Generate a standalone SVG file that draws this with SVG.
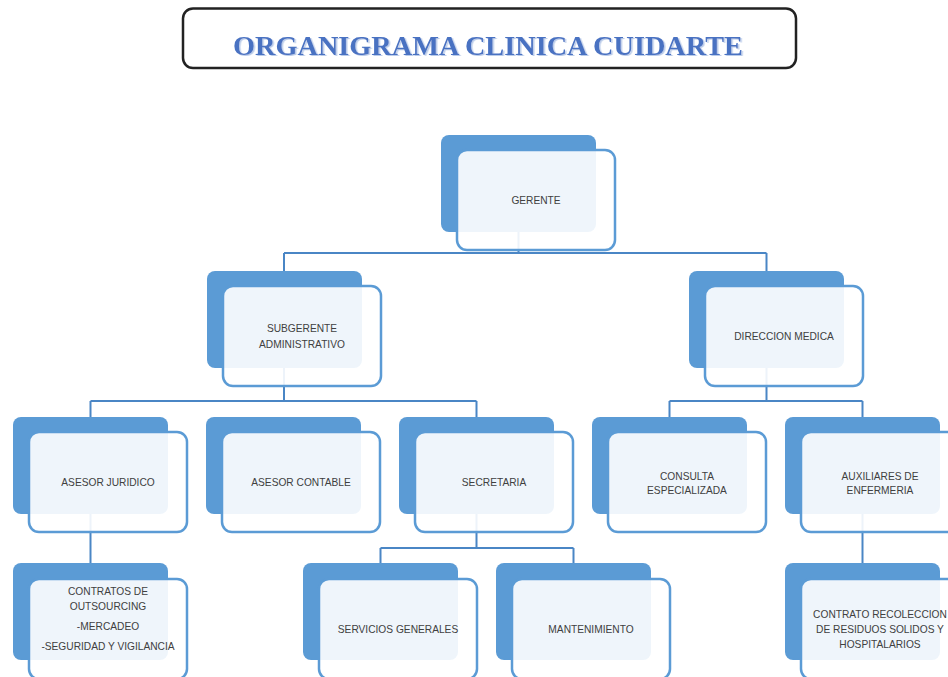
<svg xmlns="http://www.w3.org/2000/svg" width="948" height="677" viewBox="0 0 948 677">
<defs>
<filter id="shadow" x="-5%" y="-30%" width="110%" height="160%">
<feDropShadow dx="1.5" dy="1" stdDeviation="0" flood-color="#b9cbe9" flood-opacity="1"/>
</filter>
</defs>
<style>
.back{fill:#5b9bd5}
.front{fill:#ffffff;fill-opacity:0.9;stroke:#5b9bd5;stroke-width:2.5}
.lbl{font-family:"Liberation Sans",Arial,sans-serif;font-size:10.2px;fill:#404040;text-anchor:middle}
.conn{fill:none;stroke:#4a86c5;stroke-width:2}
.title{font-family:"Liberation Serif","Times New Roman",serif;font-weight:bold;font-size:27px}
</style>
<rect width="948" height="677" fill="#ffffff"/>
<g id="title">
<rect x="183" y="8.5" width="613" height="59.5" rx="10" fill="#ffffff" stroke="#222222" stroke-width="2.5"/>
<text class="title" x="233" y="55" textLength="510" lengthAdjust="spacingAndGlyphs" fill="#4a72c2" filter="url(#shadow)">ORGANIGRAMA CLINICA CUIDARTE</text>
</g>
<g id="connectors">
<path class="conn" d="M518.5,180 V253 M284,253 H766.5 M284,253 V300 M766.5,253 V300"/>
<path class="conn" d="M284,330 V401 M90.5,401 H476.5 M90.5,401 V440 M476.5,401 V440"/>
<path class="conn" d="M766.5,330 V401 M669.5,401 H862.5 M669.5,401 V440 M862.5,401 V440"/>
<path class="conn" d="M90.5,480 V590"/>
<path class="conn" d="M476.5,480 V548 M380.5,548 H573.5 M380.5,548 V590 M573.5,548 V590"/>
<path class="conn" d="M862.5,480 V590"/>
</g>
<g id="gerente">
<rect class="back" x="441" y="135" width="155" height="97" rx="8"/>
<rect class="front" x="457" y="150" width="158" height="100" rx="10"/>
<text class="lbl" x="536" y="203.5">GERENTE</text>
</g>
<g id="subgerente">
<rect class="back" x="207" y="271" width="155" height="97" rx="8"/>
<rect class="front" x="223" y="286" width="158" height="100" rx="10"/>
<text class="lbl" x="302" y="332">SUBGERENTE</text>
<text class="lbl" x="302" y="348">ADMINISTRATIVO</text>
</g>
<g id="direccion">
<rect class="back" x="689" y="271" width="155" height="97" rx="8"/>
<rect class="front" x="705" y="286" width="158" height="100" rx="10"/>
<text class="lbl" x="784" y="340">DIRECCION MEDICA</text>
</g>
<g id="asesor-juridico">
<rect class="back" x="13" y="417" width="155" height="97" rx="8"/>
<rect class="front" x="29" y="432" width="158" height="100" rx="10"/>
<text class="lbl" x="108" y="486">ASESOR JURIDICO</text>
</g>
<g id="asesor-contable">
<rect class="back" x="206" y="417" width="155" height="97" rx="8"/>
<rect class="front" x="222" y="432" width="158" height="100" rx="10"/>
<text class="lbl" x="301" y="486">ASESOR CONTABLE</text>
</g>
<g id="secretaria">
<rect class="back" x="399" y="417" width="155" height="97" rx="8"/>
<rect class="front" x="415" y="432" width="158" height="100" rx="10"/>
<text class="lbl" x="494" y="486">SECRETARIA</text>
</g>
<g id="consulta">
<rect class="back" x="592" y="417" width="155" height="97" rx="8"/>
<rect class="front" x="608" y="432" width="158" height="100" rx="10"/>
<text class="lbl" x="687" y="479.5">CONSULTA</text>
<text class="lbl" x="687" y="494">ESPECIALIZADA</text>
</g>
<g id="auxiliares">
<rect class="back" x="785" y="417" width="155" height="97" rx="8"/>
<rect class="front" x="801" y="432" width="158" height="100" rx="10"/>
<text class="lbl" x="880" y="480">AUXILIARES DE</text>
<text class="lbl" x="880" y="494">ENFERMERIA</text>
</g>
<g id="contratos">
<rect class="back" x="13" y="563" width="155" height="97" rx="8"/>
<rect class="front" x="29" y="579" width="158" height="100" rx="10"/>
<text class="lbl" x="108" y="594.5">CONTRATOS DE</text>
<text class="lbl" x="108" y="610">OUTSOURCING</text>
<text class="lbl" x="108" y="630">-MERCADEO</text>
<text class="lbl" x="108" y="649.5">-SEGURIDAD Y VIGILANCIA</text>
</g>
<g id="servicios">
<rect class="back" x="303" y="563" width="155" height="97" rx="8"/>
<rect class="front" x="319" y="579" width="158" height="100" rx="10"/>
<text class="lbl" x="398" y="632.5">SERVICIOS GENERALES</text>
</g>
<g id="mantenimiento">
<rect class="back" x="496" y="563" width="155" height="97" rx="8"/>
<rect class="front" x="512" y="579" width="158" height="100" rx="10"/>
<text class="lbl" x="591" y="632.5">MANTENIMIENTO</text>
</g>
<g id="recoleccion">
<rect class="back" x="785" y="563" width="155" height="97" rx="8"/>
<rect class="front" x="801" y="579" width="158" height="100" rx="10"/>
<text class="lbl" x="880" y="618">CONTRATO RECOLECCION</text>
<text class="lbl" x="880" y="633">DE RESIDUOS SOLIDOS Y</text>
<text class="lbl" x="880" y="648">HOSPITALARIOS</text>
</g>
</svg>
